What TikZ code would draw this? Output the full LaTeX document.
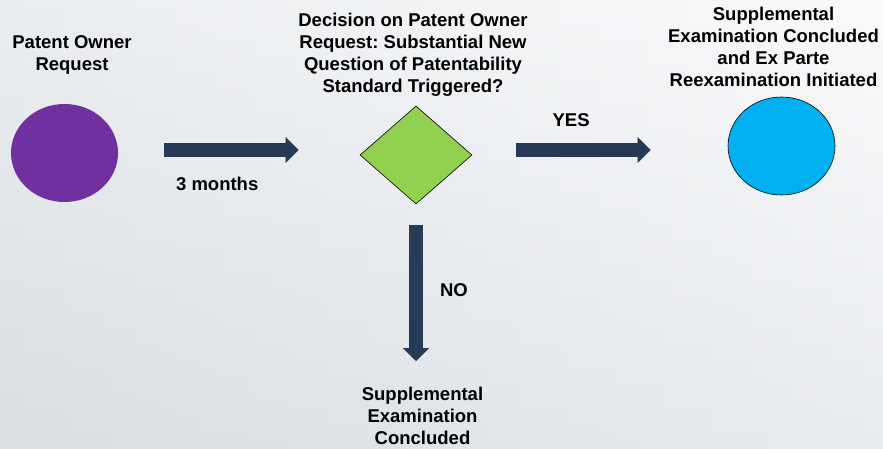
\documentclass[tikz,border=0pt]{standalone}
\usepackage{fontspec}
\setmainfont{Liberation Sans}
\frenchspacing
\usetikzlibrary{positioning, calc, arrows.meta, shapes.geometric}
\definecolor{ownerpurple}{HTML}{7030A0}
\definecolor{decgreen}{HTML}{92D050}
\definecolor{reexblue}{HTML}{00B0F0}
\definecolor{flownavy}{HTML}{263A55}
\definecolor{bgleft}{HTML}{E0E4E8}
\definecolor{bgright}{HTML}{F7F8FA}
\definecolor{bgbottom}{HTML}{CDD3D9}
\tikzset{stage/.style={ellipse, minimum width=107pt, minimum height=98pt, inner sep=0pt}}
\tikzset{decide/.style={diamond, fill=decgreen, draw=black, line width=0.6pt, minimum width=112pt, minimum height=98pt, inner sep=0pt}}
\tikzset{caption/.style={font=\bfseries\fontsize{18.5}{22}\selectfont, align=center, inner sep=0pt, outer sep=0pt}}
\tikzset{flow/.style={line width=14pt, draw=flownavy, -{Triangle[width=26pt, length=13pt, line width=0.4pt]}}}

\begin{document}
\begin{tikzpicture}[x=1pt, y=-1pt]
      % faded backdrop
      \useasboundingbox (0,0) rectangle (883,449);
      \shade[left color=bgleft, right color=bgright] (0,0) rectangle (883,449);
      \shade[top color=white, bottom color=bgbottom, opacity=0.35] (0,0) rectangle (883,449);

      \node[stage, fill=ownerpurple] (req) at (64.5,153) {};
      \node[caption, above=29pt of req, xshift=7.5pt] (reqtxt) {Patent Owner\\Request};

      \node[decide] (dec) at (416,155) {};
      \node[caption, above=9pt of dec, xshift=-3pt] (dectxt) {Decision on Patent Owner\\Request: Substantial New\\Question of Patentability\\Standard Triggered?};

      \node[stage, fill=reexblue, draw=black, line width=0.6pt] (yes) at (781.5,146) {};
      \node[caption, above=9.7pt of yes, xshift=-8pt] (yestxt) {Supplemental\\Examination Concluded\\and Ex Parte\\Reexamination Initiated};

      \node[caption, anchor=north] (notxt) at (422.5,387.5) {Supplemental\\Examination\\Concluded};

      \draw[flow, shorten <=46pt, shorten >=61pt] ([yshift=3pt]req.east) -- ([yshift=3pt]req.east -| dec.west)
      node[caption, pos=0.41, below=27pt] (months) {3 months};
      \draw[flow, shorten <=44pt, shorten >=77pt] ([yshift=5pt]dec.east) -- ([yshift=5pt]dec.east -| yes.west)
      node[caption, pos=0.387, above=23pt] (yeslbl) {YES};
      \draw[flow, shorten <=21pt, shorten >=26.5pt] (dec.south) -- (dec.south |- notxt.north)
      node[caption, pos=0.469, right=24pt] (nolbl) {NO};
    \end{tikzpicture}
\end{document}
